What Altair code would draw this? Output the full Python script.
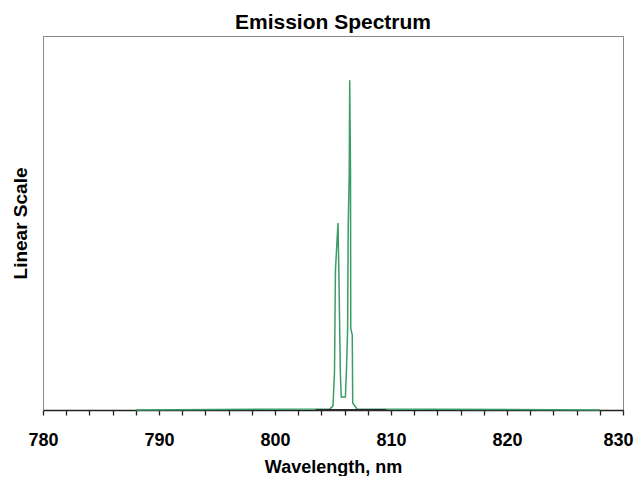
import altair as alt
import pandas as pd

# Emission spectrum trace (wavelength nm, relative intensity)
wl_green = [788.0, 804.74, 805.00, 805.13, 805.21, 805.43, 805.52, 805.63, 805.71,
            806.07, 806.16, 806.26, 806.31, 806.40, 806.44, 806.51, 806.53,
            806.66, 806.70, 807.06, 828.0]
val_green = [0.0, 0.003, 0.011, 0.102, 0.374, 0.500, 0.340, 0.102, 0.035,
             0.035, 0.107, 0.214, 0.487, 0.634, 0.882, 0.634, 0.219,
             0.200, 0.019, 0.003, 0.0]

# dark baseline segment near the peaks
wl_dark = [803.5, 809.6]
val_dark = [0.0, 0.0]

x_labels = [780, 790, 800, 810, 820, 830]
x_ticks = [780, 782, 784, 786, 788, 790, 792, 794, 796, 798, 800, 802, 804, 806, 808,
           810, 812, 814, 816, 818, 820, 822, 824, 826, 828, 830]

green = pd.DataFrame({"wl": wl_green, "val": val_green, "order": range(len(wl_green))})
dark = pd.DataFrame({"wl": wl_dark, "val": val_dark, "order": range(len(wl_dark))})

font = "Liberation Sans"
label_test = "indexof(" + str(x_labels) + ", datum.value) >= 0 ? datum.label : ''"

xenc = alt.X("wl:Q", scale=alt.Scale(domain=[780, 830], nice=False),
             axis=alt.Axis(values=x_ticks, tickCount=60, labelExpr=label_test, labelOverlap=False,
                           grid=False, tickSize=5, tickWidth=1.3, tickColor="#222",
                           domainColor="#222", domainWidth=1.3,
                           labelFont=font, labelFontSize=18, labelFontWeight="bold",
                           labelColor="#000", labelPadding=16,
                           labelOffset={"condition": {"test": "datum.value === 830", "value": -5},
                                        "value": 0},
                           title="Wavelength, nm", titleFont=font, titleFontSize=18,
                           titleFontWeight="bold", titleColor="#000", titlePadding=9,
                           labelFlush=False))
yenc = alt.Y("val:Q", scale=alt.Scale(domain=[0, 1], nice=False),
             axis=alt.Axis(labels=False, ticks=False, grid=False, domainColor="#888",
                           title="Linear Scale", titleFont=font, titleFontSize=19,
                           titleFontWeight="bold", titleColor="#000", titlePadding=13))

line_green = alt.Chart(green).mark_line(color="#3a9d68", strokeWidth=1.5, interpolate="linear").encode(
    x=xenc, y=yenc, order="order:Q")
line_dark = alt.Chart(dark).mark_line(color="#2a2a2a", strokeWidth=2).encode(
    x=alt.X("wl:Q"), y=alt.Y("val:Q"), order="order:Q")

chart = alt.layer(line_green, line_dark).properties(
    width=580, height=374,
    title=alt.TitleParams("Emission Spectrum", font=font, fontSize=21, fontWeight="bold",
                          color="#000", offset=3),
    autosize=alt.AutoSizeParams(type="none"),
    padding={"left": 35, "top": 28, "right": 11, "bottom": 66},
    background="white",
).configure_view(stroke="#888", strokeWidth=1)

chart.save("out.html", embed_options={"renderer": "svg", "actions": False})
